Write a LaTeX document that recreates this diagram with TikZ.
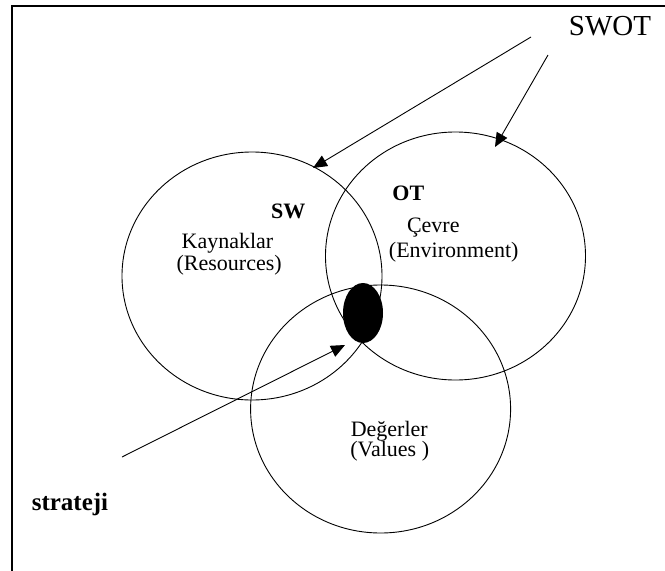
\documentclass[tikz,border=0pt]{standalone}
\usepackage{fontspec}
\setmainfont{Liberation Serif}
\usetikzlibrary{shapes.geometric, arrows.meta}
\tikzstyle{zone} = [ellipse, draw=black, line width=0.9pt,
minimum width=260pt,
minimum height=248pt,
inner sep=0pt]
\tikzstyle{txt} = [anchor=base, inner sep=0pt, font=\fontsize{22}{24}\selectfont]
\tikzstyle{boldtxt} = [txt, font=\fontsize{22}{24}\selectfont\bfseries]
\tikzstyle{arrow} = [line width=0.9pt,-{Triangle[length=14pt,width=12pt]}]

\begin{document}
\begin{tikzpicture}[x=1pt,y=-1pt]
        \useasboundingbox (0,0) rectangle (665,571);
        \draw [line width=1.8pt] (12,571) -- (12,6) -- (665,6);
        \node (res) [zone] at (252,276) {};
        \node (env) [zone] at (455.5,256) {};
        \node (val) [zone] at (380.6,409) {};
        \node (core) [ellipse, fill=black, inner sep=0pt, minimum width=40pt, minimum height=60pt] at (363,313) {};
        \node (swot) [txt, font=\fontsize{29}{31}\selectfont] at (610,35) {SWOT};
        \node (sw) [boldtxt] at (288.3,218.3) {SW};
        \node (ot) [boldtxt] at (408.3,200) {OT};
        \node (kay) [txt] at (227.5,248.3) {Kaynaklar};
        \node (resen) [txt] at (229.2,270) {(Resources)};
        \node (cev) [txt] at (433.3,232.3) {Çevre};
        \node (enven) [txt] at (453.7,257) {(Environment)};
        \node (deg) [txt] at (389.3,436) {Değerler};
        \node (valen) [txt] at (389.7,456) {(Values )};
        \node (str) [boldtxt, font=\fontsize{25}{27}\selectfont\bfseries] at (70,510.7) {strateji};
        \coordinate (swotA) at (531,37);
        \coordinate (swotB) at (548,55);
        \coordinate (resin) at (313,168);
        \coordinate (envin) at (495,147);
        \coordinate (strin) at (122,457);
        \coordinate (coreat) at (345,345);
        \draw [arrow] (swotA) -- (resin);
        \draw [arrow] (swotB) -- (envin);
        \draw [arrow] (strin) -- (coreat);
    \end{tikzpicture}
\end{document}
